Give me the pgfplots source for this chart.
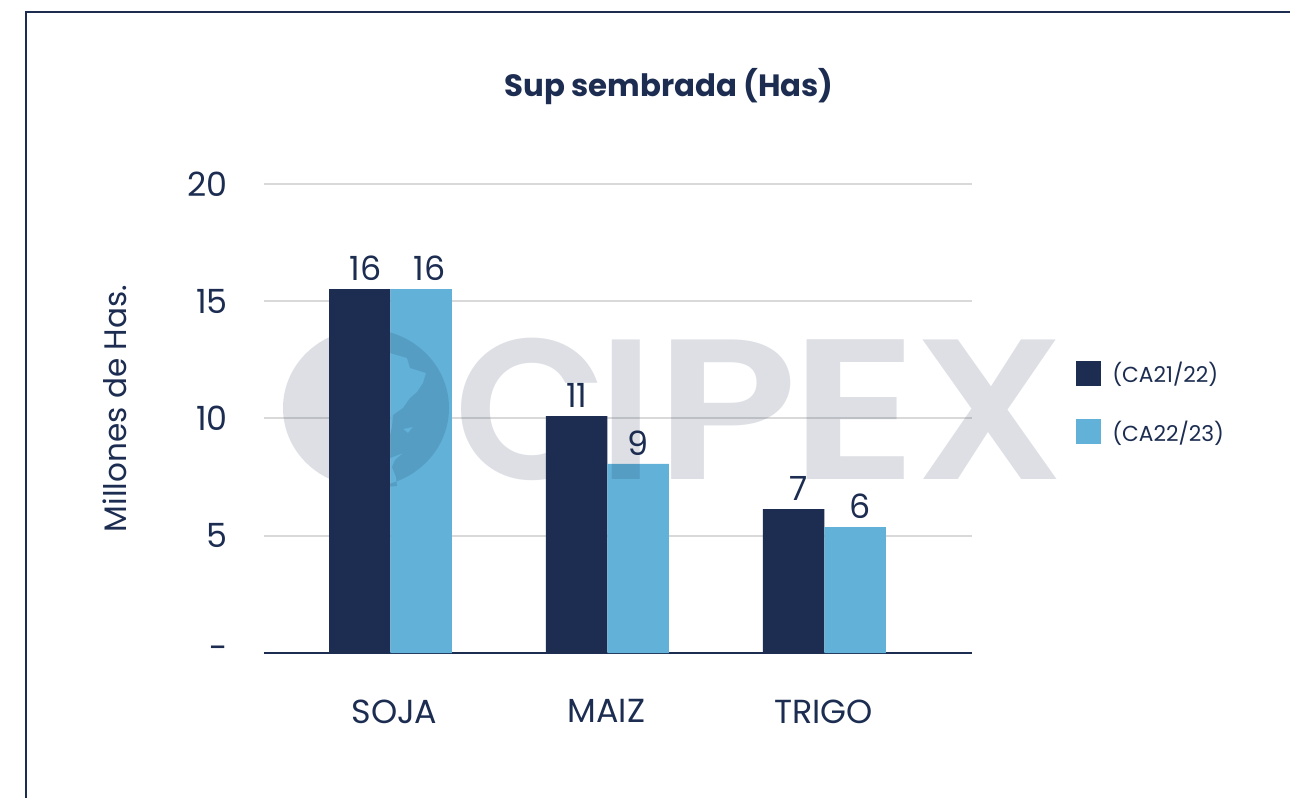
\documentclass[border=0pt]{standalone}
\usepackage{fontspec}
\setmainfont{Poppins}
\newfontfamily\wm{Poppins SemiBold}
\usepackage{pgfplots}
\pgfplotsset{compat=1.18}
\definecolor{navy}{HTML}{1C2D51}
\definecolor{sky}{HTML}{61B1D8}
\definecolor{gridg}{HTML}{D9D9D9}
\newcommand{\fs}[1]{\fontsize{#1}{#1}\selectfont}
\begin{document}
\begin{tikzpicture}[x=0.75pt,y=-0.75pt]
\path[use as bounding box,fill=white] (0,0) rectangle (1290,798);
\draw[navy,line width=1.9pt] (1290,12)--(26,12)--(26,798);
\begin{axis}[
  at={(198pt,-489.75pt)},anchor=south west,
  width=531pt,height=351.75pt,scale only axis,
  xmin=-0.583,xmax=2.680,ymin=0,ymax=20,
  axis x line=bottom,axis y line=left,
  axis line style={-,navy,line width=1.5pt},
  y axis line style={draw=none},
  ytick={0,5,10,15,20},yticklabels={-,5,10,15,20},
  xtick={0.018,0.995,1.995},xticklabels={SOJA,MAIZ,TRIGO},
  major tick length=0pt,tick style={draw=none},
  ymajorgrids,grid style={gridg,line width=1.5pt},
  yticklabel style={font=\fs{25},text=navy,inner sep=0pt,xshift=-27pt},
  xticklabel style={font=\fs{25},text=navy,yshift=-31.5pt},
  ylabel={Millones de Has.},
  ylabel style={at={(axis description cs:-0.2100,0.521)},anchor=center,font=\fs{23.3},text=navy},
  title={Sup sembrada (Has)},
  title style={at={(axis description cs:0.572,1.209)},anchor=center,font=\fs{23.1}\bfseries,text=navy,yshift=-6.75pt},
  ybar,bar width=0.2834,
  point meta=explicit symbolic,
  nodes near coords,
  nodes near coords style={font=\fs{25},text=navy,inner sep=0pt,yshift=6pt,anchor=south},
  legend style={at={(1.1467,0.534)},anchor=west,draw=none,fill=none,font=\fs{16.3},text=navy,
    row sep=23pt,inner sep=0pt,/tikz/every odd column/.append style={column sep=6.3pt}},
  legend cell align=left,
  legend image code/.code={\fill[#1] (0pt,-9.4pt) rectangle (18.8pt,9.4pt);},
]
\addplot[fill=navy,draw=none,bar shift=-0.1417,
  coordinate style/.condition={x==0}{xshift=4.5pt},
  coordinate style/.condition={x==2}{xshift=3.75pt}]
  coordinates {(0,15.52)[16] (1,10.1)[11] (2,6.14)[7]};
\addplot[fill=sky,draw=none,bar shift=0.1417,
  coordinate style/.condition={x==0}{xshift=6.5pt},
  coordinate style/.condition={x==2}{xshift=3.75pt}]
  coordinates {(0,15.52)[16] (1,8.06)[9] (2,5.37)[6]};
\addlegendentry{(CA21/22)}
\addlegendentry{(CA22/23)}
\end{axis}
\begin{scope}[fill=navy,opacity=0.15]
\fill[even odd rule] (366,408) ellipse [x radius=83,y radius=79]
 (385,353)--(390,353)--(407,358)--(410,368)--(426,373)--(423,383)--(417,392)--(410,398)--(403,408)--(393,415)--(392,427)--(390,435)--(385,435)--cycle
 (403,429)--(413,427)--(408,433)--cycle
 (403,453)--(395,460)--(392,467)--(396,477)--(397,486)--(385,487)--(385,460)--cycle;
\end{scope}
\begin{scope}[text=navy,text opacity=0.15,inner sep=0pt]
\node[anchor=base,font=\wm\fs{150},xscale=1.0] at (531,480) {C};
\node[anchor=base,font=\wm\fs{150},xscale=1.0] at (626,480) {I};
\node[anchor=base,font=\wm\fs{150},xscale=1.17] at (727,480) {P};
\node[anchor=base,font=\wm\fs{150},xscale=1.2] at (854,480) {E};
\node[anchor=base,font=\wm\fs{150},xscale=1.1] at (990,480) {X};
\end{scope}
\end{tikzpicture}
\end{document}
